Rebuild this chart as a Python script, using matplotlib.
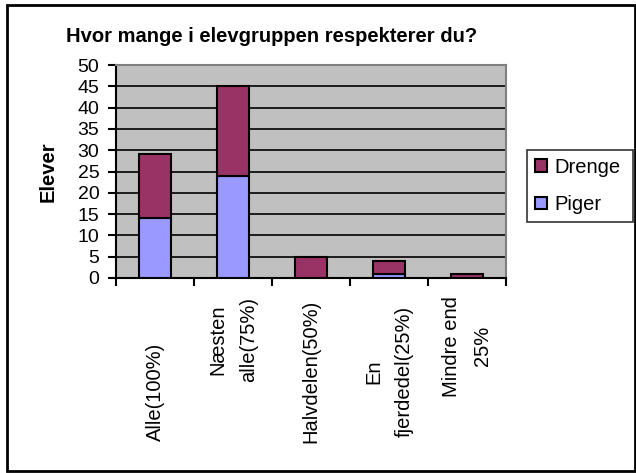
import matplotlib
matplotlib.use("Agg")
import matplotlib.pyplot as plt
import numpy as np
from matplotlib.patches import Rectangle

# Data
categories = ["Alle(100%)", "Næsten\nalle(75%)", "Halvdelen(50%)",
              "En\nfjerdedel(25%)", "Mindre end\n25%"]
piger = [14, 24, 0, 1, 0]
drenge = [15, 21, 5, 3, 1]

# Vertical centres of the rotated category labels (axes fraction)
label_y = [-0.535, -0.29, -0.44, -0.44, -0.32]

plt.rcParams["font.family"] = ["Liberation Sans", "DejaVu Sans"]

fig = plt.figure(figsize=(6.36, 4.73), dpi=100)
ax = fig.add_axes([116 / 636, 1 - 278 / 473, 390 / 636, 213 / 473])

x = np.arange(len(categories))
ax.bar(x, piger, width=0.41, color="#9999ff", edgecolor="black",
       linewidth=1.5, label="Piger", zorder=3)
ax.bar(x, drenge, width=0.41, bottom=piger, color="#993366",
       edgecolor="black", linewidth=1.5, label="Drenge", zorder=3)

ax.set_facecolor("#c0c0c0")
ax.set_xlim(-0.5, len(categories) - 0.5)
ax.set_ylim(0, 50)
ax.set_yticks(range(0, 51, 5))
ax.yaxis.grid(True, color="black", linewidth=1.2, zorder=1)
ax.set_axisbelow(True)

for side in ["top", "right"]:
    ax.spines[side].set_color("#808080")
    ax.spines[side].set_linewidth(1.5)
for side in ["left", "bottom"]:
    ax.spines[side].set_color("black")
    ax.spines[side].set_linewidth(1.5)

ax.set_xticks(np.arange(len(categories) + 1) - 0.5)
ax.set_xticklabels([])
ax.tick_params(axis="x", direction="out", length=6, width=1.5)
ax.tick_params(axis="y", direction="out", length=6, width=1.5,
               labelsize=14, pad=6)

for i, (lab, ly) in enumerate(zip(categories, label_y)):
    ax.text(i, ly, lab, transform=ax.get_xaxis_transform(), rotation=90,
            ha="center", va="center", fontsize=14.5, multialignment="center",
            linespacing=1.8)

ax.set_ylabel("Elever", fontsize=14.5, fontweight="bold", labelpad=14)

fig.text(272 / 636, 1 - 37 / 473, "Hvor mange i elevgruppen respekterer du?",
         ha="center", va="center", fontsize=14.5, fontweight="bold")

handles, labels = ax.get_legend_handles_labels()
leg = fig.legend(handles[::-1], labels[::-1], loc="center left",
                 bbox_to_anchor=(527 / 636, 1 - 186 / 473, 106 / 636, 0),
                 mode="expand", fontsize=14.5,
                 frameon=True, fancybox=False, edgecolor="black",
                 handlelength=0.6, handleheight=0.6, handletextpad=0.35,
                 labelspacing=0.9, borderpad=0.4, borderaxespad=0)
leg.get_frame().set_linewidth(1.2)

# Outer chart border
fig.patches.append(Rectangle((7 / 636, 1 - 471 / 473), 628 / 636, 466 / 473,
                             transform=fig.transFigure, fill=False,
                             edgecolor="black", linewidth=2))

fig.savefig("out.png", dpi=100)
